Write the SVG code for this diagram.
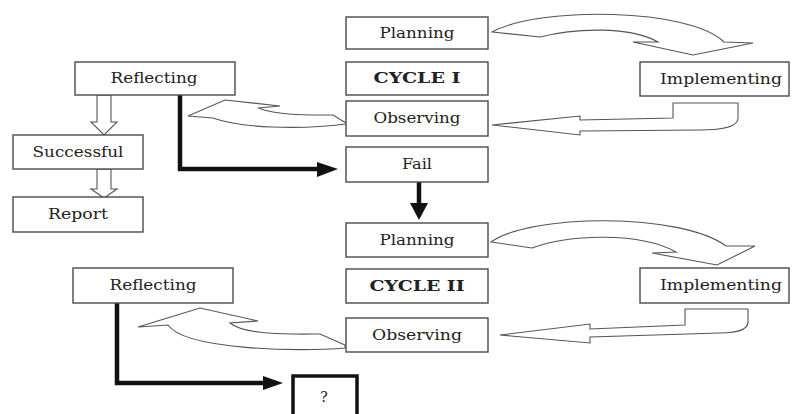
<svg xmlns="http://www.w3.org/2000/svg" width="792" height="414" viewBox="0 0 792 414">
<defs>
<style>
.box{fill:#fff;stroke:#4a4a4a;stroke-width:1.4}
.tbox{fill:#fff;stroke:#111;stroke-width:3.5}
.lbl{font-family:"DejaVu Serif","Liberation Serif",serif;font-size:14px;fill:#222;text-anchor:middle}
.bold{font-weight:bold}
.hollow{fill:#fff;stroke:#555;stroke-width:1.1;stroke-linejoin:miter}
.thick{fill:none;stroke:#111;stroke-width:4.5}
.head{fill:#111;stroke:none}
</style>
</defs>
<rect width="792" height="414" fill="#fff"/>

<g id="connectors">
<!-- Cycle I: Planning -> Implementing -->
<path class="hollow" d="M492,32 C540,6 690,8 724,42 L753,43 L693,55 L633,42 L658,42 C630,26 575,28 540,37 Z"/>
<!-- Cycle I: Implementing -> Observing -->
<path class="hollow" d="M738,103 L738,118 C738,128 720,130 700,130 L580,131 L580,135 L492,125 L580,116 L580,120 L673,118 L673,103 Z"/>
<!-- Cycle I: Observing -> Reflecting -->
<path class="hollow" d="M346,123 L333,115 C310,115 280,116 258,108 L280,106 L225,100 L188,116 L213,118 C240,128 300,130 346,124 Z"/>
<!-- Reflecting -> Successful -->
<path class="hollow" d="M97,95 L97,122 L91,122 L104,135 L117,122 L111,122 L111,95 Z"/>
<!-- Successful -> Report -->
<path class="hollow" d="M97,169 L97,189 L91,189 L104,198 L117,189 L111,189 L111,169 Z"/>
<!-- Reflecting I -> Fail -->
<path class="thick" d="M180,95 L180,169 L320,169"/>
<path class="head" d="M317,162 L338,169 L317,177 Z"/>
<!-- Fail -> Planning II -->
<path class="thick" d="M419,182 L419,205"/>
<path class="head" d="M410,203 L428,203 L419,220 Z"/>
<!-- Cycle II: Planning -> Implementing -->
<path class="hollow" d="M491,242 C530,214 680,212 726,246 L755,246 L717,265 L652,253 L676,252 C640,232 570,234 532,248 Z"/>
<!-- Cycle II: Implementing -> Observing -->
<path class="hollow" d="M748,309 L748,322 C748,330 735,333 720,333 L590,337 L590,343 L500,335 L590,324 L590,329 L685,325 L685,309 Z"/>
<!-- Cycle II: Observing -> Reflecting -->
<path class="hollow" d="M345,345 L320,334 C300,334 245,336 230,323 L258,321 L200,308 L138,327 L168,325 C185,350 300,352 345,348 Z"/>
<!-- Reflecting II -> ? -->
<path class="thick" d="M117,303 L117,383 L266,383"/>
<path class="head" d="M263,376 L283,383 L263,390 Z"/>
</g>

<g id="planning1"><rect class="box" x="346" y="17" width="142" height="32"/><text class="lbl" x="417" y="38" textLength="75" lengthAdjust="spacingAndGlyphs">Planning</text></g>
<g id="cycle1"><rect class="box" x="346" y="62" width="142" height="33"/><text class="lbl bold" x="417" y="83" textLength="87" lengthAdjust="spacingAndGlyphs">CYCLE I</text></g>
<g id="observing1"><rect class="box" x="346" y="101" width="142" height="35"/><text class="lbl" x="417" y="123" textLength="87" lengthAdjust="spacingAndGlyphs">Observing</text></g>
<g id="implementing1"><rect class="box" x="640" y="62" width="149" height="34"/><text class="lbl" x="721" y="84" textLength="122" lengthAdjust="spacingAndGlyphs">Implementing</text></g>
<g id="reflecting1"><rect class="box" x="75" y="62" width="160" height="33"/><text class="lbl" x="154" y="83" textLength="87" lengthAdjust="spacingAndGlyphs">Reflecting</text></g>
<g id="successful"><rect class="box" x="13" y="135" width="130" height="34"/><text class="lbl" x="78" y="157" textLength="91" lengthAdjust="spacingAndGlyphs">Successful</text></g>
<g id="report"><rect class="box" x="13" y="197" width="130" height="35"/><text class="lbl" x="78" y="219" textLength="60" lengthAdjust="spacingAndGlyphs">Report</text></g>
<g id="fail"><rect class="box" x="346" y="147" width="142" height="35"/><text class="lbl" x="417" y="169" textLength="30" lengthAdjust="spacingAndGlyphs">Fail</text></g>
<g id="planning2"><rect class="box" x="346" y="223" width="142" height="34"/><text class="lbl" x="417" y="245" textLength="75" lengthAdjust="spacingAndGlyphs">Planning</text></g>
<g id="cycle2"><rect class="box" x="346" y="269" width="142" height="34"/><text class="lbl bold" x="417" y="291" textLength="95" lengthAdjust="spacingAndGlyphs">CYCLE II</text></g>
<g id="observing2"><rect class="box" x="346" y="318" width="142" height="34"/><text class="lbl" x="417" y="340" textLength="90" lengthAdjust="spacingAndGlyphs">Observing</text></g>
<g id="implementing2"><rect class="box" x="640" y="268" width="149" height="35"/><text class="lbl" x="721" y="290" textLength="122" lengthAdjust="spacingAndGlyphs">Implementing</text></g>
<g id="reflecting2"><rect class="box" x="73" y="268" width="160" height="35"/><text class="lbl" x="153" y="290" textLength="87" lengthAdjust="spacingAndGlyphs">Reflecting</text></g>
<g id="question"><rect class="tbox" x="293" y="376" width="64" height="40"/><text class="lbl" x="324" y="402">?</text></g>
</svg>
